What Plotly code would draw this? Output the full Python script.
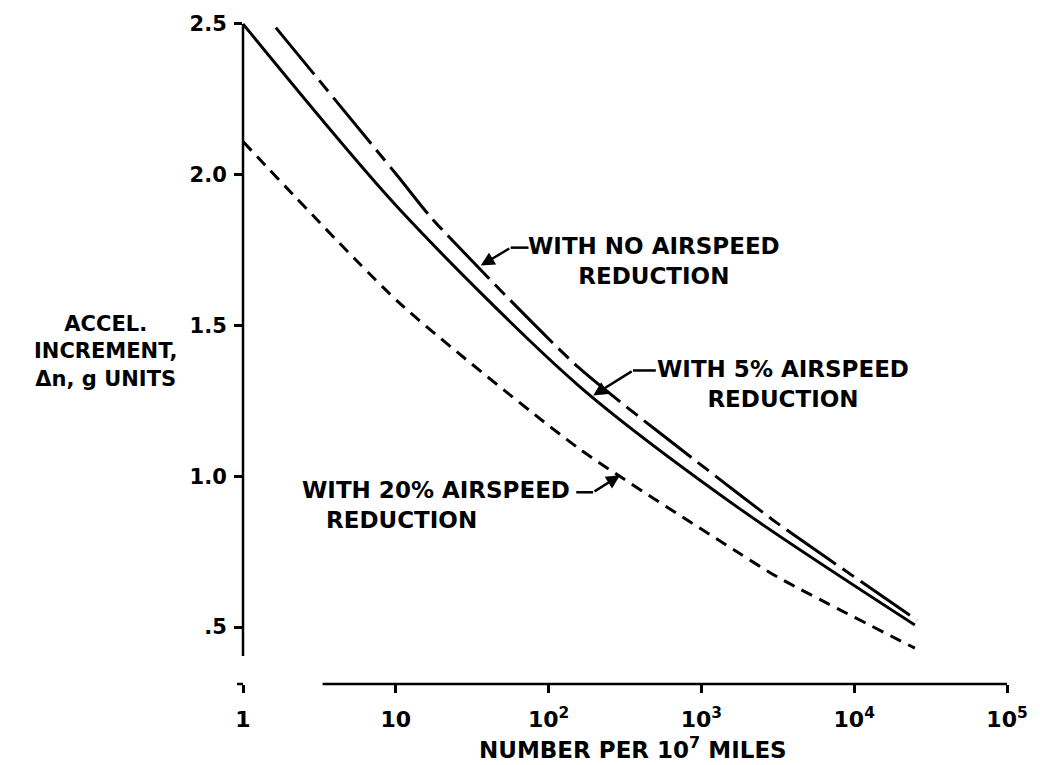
import plotly.graph_objects as go

# ---- data ----
n_5pct = [1, 10.5, 157, 1730, 24950]
a_5pct = [2.50, 1.887, 1.301, 0.897, 0.507]

n_none = [1.64, 10.5, 17.3, 157, 1730, 3150, 25700]
a_none = [2.488, 1.99, 1.854, 1.361, 0.944, 0.844, 0.523]

n_20pct = [1, 10.5, 157, 1730, 3150, 24950]
a_20pct = [2.11, 1.576, 1.093, 0.748, 0.666, 0.43]

x_tickvals = [1, 10, 100, 1000, 10000, 100000]
x_ticktext = ["1", "10", "10<sup>2</sup>", "10<sup>3</sup>", "10<sup>4</sup>", "10<sup>5</sup>"]
y_tickvals = [0.5, 1.0, 1.5, 2.0, 2.5]
y_ticktext = [".5", "1.0", "1.5", "2.0", "2.5"]

# ---- layout geometry (page pixels) ----
W, H = 1040, 765
PL, PR, PT, PB = 243, 1011, 13, 684
L, R, T, B = PL, W - PR, PT, H - PB
PW, PH = PR - PL, PB - PT


def px(xp):
    return (xp - PL) / PW


def py(yp):
    return (PB - yp) / PH


FONT = "DejaVu Sans"
BLACK = "black"

fig = go.Figure()
fig.add_trace(go.Scatter(x=n_none, y=a_none, mode="lines",
                         line=dict(color=BLACK, width=3, dash="60px,8px,14px,8px", shape="spline", smoothing=0.6),
                         name="With no airspeed reduction"))
fig.add_trace(go.Scatter(x=n_5pct, y=a_5pct, mode="lines",
                         line=dict(color=BLACK, width=3, shape="spline", smoothing=0.8),
                         name="With 5% airspeed reduction"))
fig.add_trace(go.Scatter(x=n_20pct, y=a_20pct, mode="lines",
                         line=dict(color=BLACK, width=3, dash="12px,8px", shape="spline", smoothing=0.6),
                         name="With 20% airspeed reduction"))

# y-axis range so that 2.5 is at page pixel 23 and .5 at 627
ppu = (627 - 23) / 2.0
y_top = 2.5 + (23 - PT) / ppu
y_bot = 2.5 - (PB - 23) / ppu

fig.update_layout(
    width=W, height=H,
    margin=dict(l=L, r=R, t=T, b=B),
    paper_bgcolor="white", plot_bgcolor="white",
    showlegend=False,
    font=dict(family=FONT, color=BLACK, weight="bold"),
    xaxis=dict(type="log", range=[0, 5], showgrid=False, zeroline=False, showline=False,
               ticks="outside", ticklen=8, tickwidth=2.5, tickcolor=BLACK,
               tickvals=x_tickvals, ticktext=x_ticktext,
               tickfont=dict(family=FONT, size=22, color=BLACK, weight="bold"),
               ticklabelstandoff=8),
    yaxis=dict(range=[y_bot, y_top], showgrid=False, zeroline=False, showline=False,
               ticks="outside", ticklen=8, tickwidth=2.5, tickcolor=BLACK,
               tickvals=y_tickvals, ticktext=y_ticktext,
               tickfont=dict(family=FONT, size=21, color=BLACK, weight="bold"),
               ticklabelstandoff=3),
)

# axis lines (broken style, as drawn)
y_axis_bottom = 2.5 - (656 - 23) / ppu
fig.add_shape(type="line", xref="paper", yref="y", x0=0, x1=0, y0=y_axis_bottom, y1=2.5,
              line=dict(color=BLACK, width=2.5))
fig.add_shape(type="line", xref="paper", yref="paper", x0=px(323), x1=1, y0=0, y1=0,
              line=dict(color=BLACK, width=2.5))
fig.add_shape(type="line", xref="paper", yref="paper", x0=px(237), x1=0, y0=0, y1=0,
              line=dict(color=BLACK, width=2.5))


def label(text, xp, yp, size=23, xanchor="center", align="center", yanchor="middle"):
    fig.add_annotation(text=text, xref="paper", yref="paper", x=px(xp), y=py(yp),
                       xanchor=xanchor, yanchor=yanchor, showarrow=False, align=align,
                       font=dict(family=FONT, size=size, color=BLACK, weight="bold"))


def leader(tip, bend, hend):
    fig.add_shape(type="line", xref="paper", yref="paper",
                  x0=px(bend[0]), x1=px(hend), y0=py(bend[1]), y1=py(bend[1]),
                  line=dict(color=BLACK, width=2.5))
    fig.add_annotation(text="", xref="paper", yref="paper", x=px(tip[0]), y=py(tip[1]),
                       ax=bend[0] - tip[0], ay=bend[1] - tip[1], showarrow=True,
                       arrowhead=2, arrowsize=1.1, arrowwidth=2.5, arrowcolor=BLACK)


# curve labels (two-line blocks)
label("WITH NO AIRSPEED<br>REDUCTION", 656, 260)
leader((482, 265), (512, 247), 530)

label("WITH 5% AIRSPEED<br>REDUCTION", 786, 384)
leader((595, 395), (635, 370), 658)

label("WITH 20% AIRSPEED<br>\u00a0\u00a0\u00a0REDUCTION", 574, 505, xanchor="right", align="left")
leader((622, 475), (595, 492), 578)

# axis titles
label("ACCEL.<br>INCREMENT,<br>Δn, g UNITS", 105, 351, size=21)
label("NUMBER PER 10<sup>7</sup> MILES", 635, 765, size=23, yanchor="bottom")

fig.write_html("out.html", config={"displayModeBar": False},
               post_script="document.body.style.margin='0px';")
